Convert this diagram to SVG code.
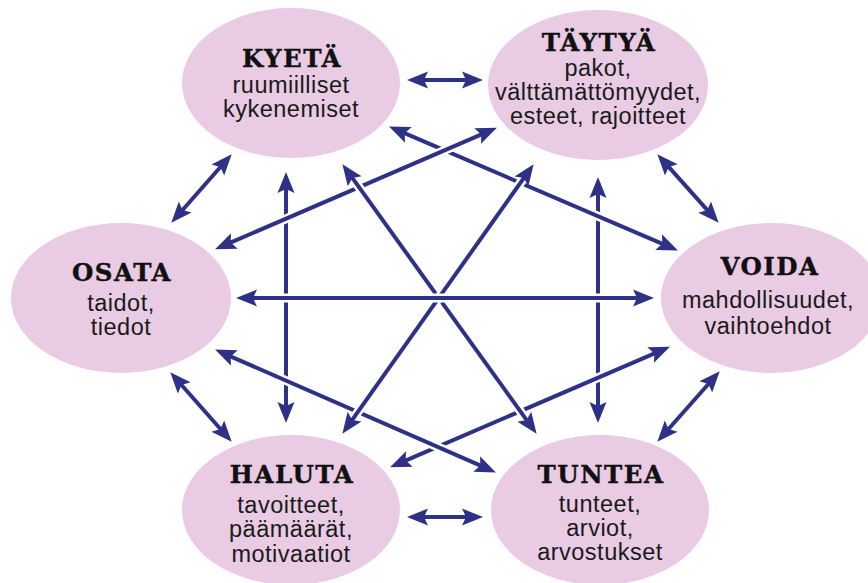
<svg xmlns="http://www.w3.org/2000/svg" width="868" height="583" viewBox="0 0 868 583">
  <defs>
    <marker id="ah" markerUnits="userSpaceOnUse" orient="auto-start-reverse" refX="0" refY="0" markerWidth="40" markerHeight="40" viewBox="-20 -20 40 40" overflow="visible">
      <path d="M13,0 L-8,-8.5 L-4,0 L-8,8.5 Z" fill="#2e3185"/>
    </marker>
    <style>
      .node { fill: #e9cbe3; }
      .title { font-family: "DejaVu Serif", "Liberation Serif", serif; font-weight: bold; font-size: 24.5px; letter-spacing: 1.5px; fill: #111; text-anchor: middle; stroke: #111; stroke-width: 0.4px; }
      .sub { font-family: "Liberation Sans", Arial, sans-serif; font-size: 23.5px; letter-spacing: 0.5px; fill: #1a1a1a; text-anchor: middle; }
      .halo { fill: none; stroke: #fff; stroke-width: 9; }
      .ln { fill: none; stroke: #2e3185; stroke-width: 4; marker-start: url(#ah); marker-end: url(#ah); }
    </style>
  </defs>
  <rect x="0" y="0" width="868" height="583" fill="#fff"/>

  <g id="kyeta">
    <ellipse class="node" cx="291" cy="83" rx="109" ry="75"/>
    <text class="title" x="292" y="67">KYETÄ</text>
    <text class="sub" x="291" y="93">ruumiilliset</text>
    <text class="sub" x="291" y="117">kykenemiset</text>
  </g>
  <g id="taytya">
    <ellipse class="node" cx="598" cy="85" rx="110" ry="75"/>
    <text class="title" x="599" y="51">TÄYTYÄ</text>
    <text class="sub" x="598" y="76">pakot,</text>
    <text class="sub" x="598" y="100">välttämättömyydet,</text>
    <text class="sub" x="598" y="124">esteet, rajoitteet</text>
  </g>
  <g id="osata">
    <ellipse class="node" cx="121" cy="298" rx="110" ry="75"/>
    <text class="title" x="122" y="281">OSATA</text>
    <text class="sub" x="121" y="311">taidot,</text>
    <text class="sub" x="121" y="335">tiedot</text>
  </g>
  <g id="voida">
    <ellipse class="node" cx="771" cy="298" rx="110" ry="75"/>
    <text class="title" x="770" y="275">VOIDA</text>
    <text class="sub" x="768" y="308">mahdollisuudet,</text>
    <text class="sub" x="768" y="334">vaihtoehdot</text>
  </g>
  <g id="haluta">
    <ellipse class="node" cx="291" cy="510" rx="109" ry="75"/>
    <text class="title" x="292" y="483">HALUTA</text>
    <text class="sub" x="291" y="513">tavoitteet,</text>
    <text class="sub" x="291" y="537">päämäärät,</text>
    <text class="sub" x="291" y="562">motivaatiot</text>
  </g>
  <g id="tuntea">
    <ellipse class="node" cx="600" cy="510" rx="109" ry="75"/>
    <text class="title" x="601" y="483">TUNTEA</text>
    <text class="sub" x="600" y="512">tunteet,</text>
    <text class="sub" x="600" y="536">arviot,</text>
    <text class="sub" x="600" y="560">arvostukset</text>
  </g>

  <g id="connectors">
    <!-- outer ring -->
    <path class="ln" d="M420,80 L470,80"/>
    <path class="ln" d="M420,517 L470,517"/>
    <path class="ln" d="M223.1,164 L179.9,213"/>
    <path class="ln" d="M666,163.9 L710,213.1"/>
    <path class="ln" d="M178.9,382 L223.1,432"/>
    <path class="ln" d="M711.1,381 L665.9,432"/>
    <!-- verticals -->
    <path class="halo" d="M286,185 L286,410"/>
    <path class="ln" d="M286,185 L286,410"/>
    <path class="halo" d="M598,190 L598,410"/>
    <path class="ln" d="M598,190 L598,410"/>
    <!-- shallow diagonals (lower layer) -->
    <path class="halo" d="M401,131.7 L666,245.3"/>
    <path class="ln" d="M401,131.7 L666,245.3"/>
    <path class="halo" d="M402,462.2 L658,351.8"/>
    <path class="ln" d="M402,462.2 L658,351.8"/>
    <!-- shallow diagonals (upper layer) -->
    <path class="halo" d="M227,244.2 L485,132.8"/>
    <path class="ln" d="M227,244.2 L485,132.8"/>
    <path class="halo" d="M227,354.8 L484,467.2"/>
    <path class="ln" d="M227,354.8 L484,467.2"/>
    <!-- steep diagonals -->
    <path class="halo" d="M350,174.7 L529,423.3"/>
    <path class="ln" d="M350,174.7 L529,423.3"/>
    <path class="halo" d="M526.1,174.8 L349.9,423.2"/>
    <path class="ln" d="M526.1,174.8 L349.9,423.2"/>
    <!-- horizontal -->
    <path class="halo" d="M249,298 L641,298"/>
    <path class="ln" d="M249,298 L641,298"/>
  </g>
</svg>
